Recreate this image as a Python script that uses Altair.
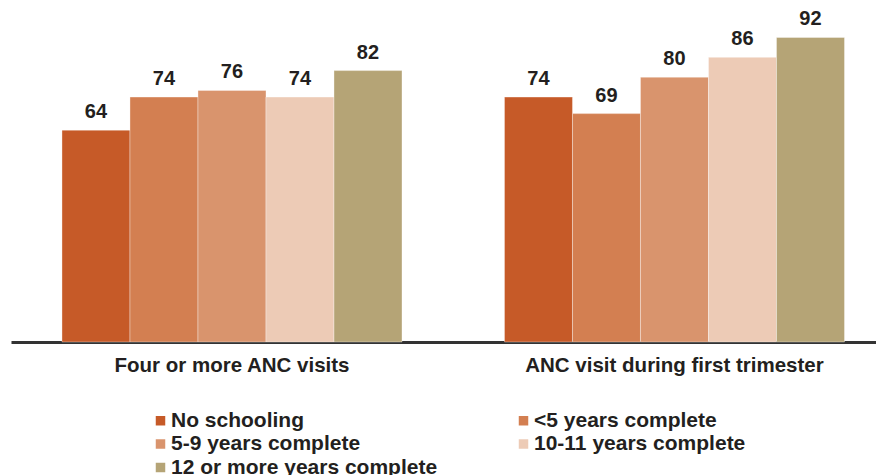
import altair as alt
import pandas as pd

groups = ["Four or more ANC visits", "ANC visit during first trimester"]
categories = [
    "No schooling",
    "<5 years complete",
    "5-9 years complete",
    "10-11 years complete",
    "12 or more years complete",
]
four_plus = [64, 74, 76, 74, 82]
first_trimester = [74, 69, 80, 86, 92]
colors = ["#C65A28", "#D37F51", "#D9946D", "#EDCBB6", "#B5A476"]

rows = []
for g, vals in zip(groups, [four_plus, first_trimester]):
    for c, v in zip(categories, vals):
        rows.append({"group": g, "cat": c, "value": v})
df = pd.DataFrame(rows)

FONT = "Liberation Sans"
TXT = "#231F20"

base = alt.Chart(df).encode(
    x=alt.X(
        "group:N",
        sort=groups,
        scale=alt.Scale(paddingInner=0.2316, paddingOuter=0.0932, align=0.618),
        axis=alt.Axis(
            title=None,
            labelAngle=0,
            ticks=False,
            domainColor="#333333",
            domainWidth=3,
            labelFont=FONT,
            labelFontSize=20.5,
            labelFontWeight="bold",
            labelColor=TXT,
            labelPadding=13,
            labelLimit=500,
        ),
    ),
    xOffset=alt.XOffset(
        "cat:N", sort=categories, scale=alt.Scale(paddingInner=0, paddingOuter=0)
    ),
    y=alt.Y("value:Q", scale=alt.Scale(domain=[0, 100]), axis=None),
)

bars = base.mark_bar(stroke="white", strokeWidth=0.5, strokeOpacity=0.7).encode(
    color=alt.Color(
        "cat:N",
        sort=categories,
        scale=alt.Scale(domain=categories, range=colors),
        legend=alt.Legend(
            title=None,
            orient="none",
            direction="horizontal",
            legendX=139,
            legendY=399,
            columns=2,
            columnPadding=75,
            rowPadding=1.5,
            symbolType="square",
            symbolSize=90,
            symbolStrokeWidth=0,
            symbolOpacity=1,
            labelFont=FONT,
            labelFontSize=21,
            labelFontWeight="bold",
            labelColor=TXT,
            labelLimit=500,
            labelOffset=0,
            padding=0,
        ),
    )
)

labels = base.mark_text(
    baseline="alphabetic",
    dy=-12,
    font=FONT,
    fontSize=20,
    fontWeight="bold",
    color=TXT,
).encode(text="value:Q")

chart = (
    alt.layer(bars, labels)
    .properties(
        width=865,
        height=331,
        padding={"left": 3, "top": 1, "right": 0, "bottom": 0},
    )
    .configure_view(stroke=None)
)

chart.save("out.html", embed_options={"renderer": "svg", "actions": False})
